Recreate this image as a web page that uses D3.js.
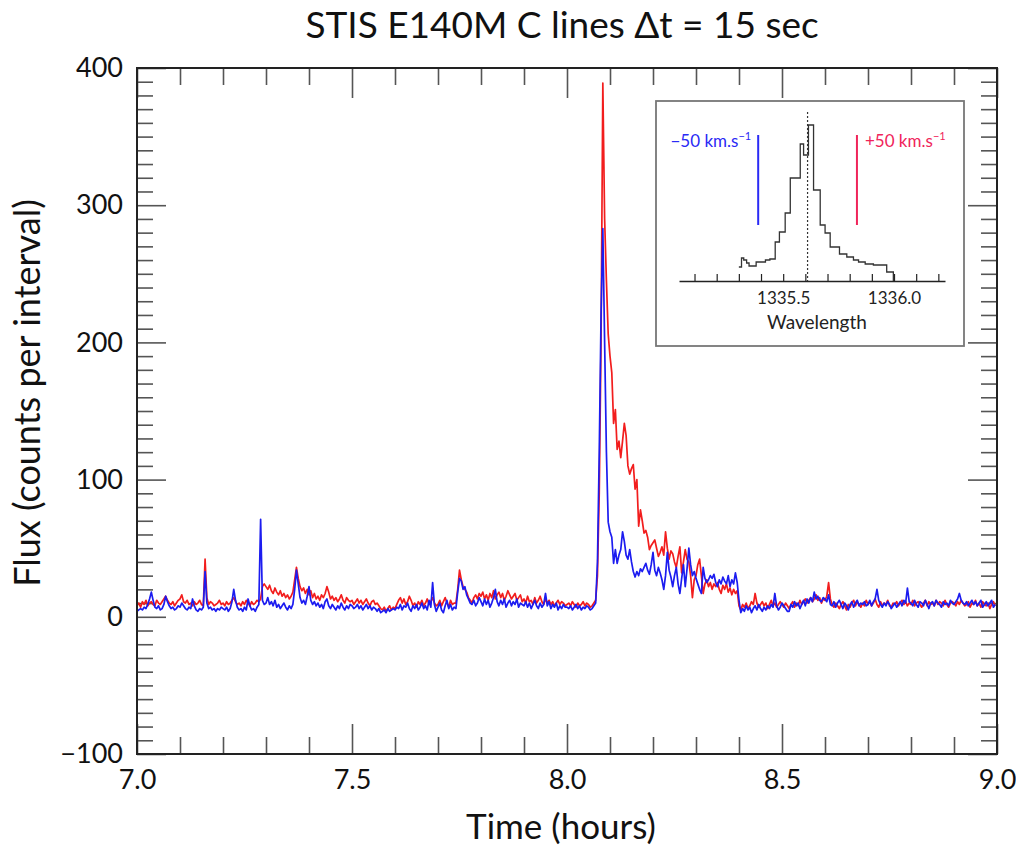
<!DOCTYPE html>
<html><head><meta charset="utf-8">
<script src="https://cdn.jsdelivr.net/npm/d3@7"></script>
<style>body{margin:0;background:#fff} svg{display:block} text{font-family:Lato,"Open Sans",sans-serif}</style>
</head><body><svg id="c" width="1016" height="848"></svg>
<script>
// ---------- DATA ----------
const startHour = 7.0;
const stepSec = 15;
const redFlux = [
8,10,7,11,9,12,8,10,11,9,8,12,10,9,11,13,15,12,10,9,11,8,10,12,
13,16,11,10,12,9,10,8,11,9,10,12,9,8,42,14,9,11,10,8,9,10,12,9,
10,8,11,9,10,12,14,11,9,10,8,11,9,12,10,8,11,9,10,12,11,13,22,24,
22,20,23,19,17,21,18,16,19,15,17,14,16,13,15,18,27,36,28,22,19,21,17,20,
16,19,14,17,13,15,12,16,14,17,22,18,13,15,12,14,11,13,16,12,10,14,12,11,
12,9,11,13,10,12,9,11,13,10,8,11,12,9,10,8,6,5,7,4,6,8,5,7,
6,9,12,14,10,13,9,11,15,12,8,10,7,11,9,12,8,10,13,9,11,14,10,8,
9,12,8,11,14,10,7,12,9,10,10,20,34,27,22,20,18,14,12,10,14,16,13,17,
15,18,13,16,12,17,14,19,13,16,18,14,17,12,15,19,16,13,15,17,12,14,16,11,
13,10,15,11,12,9,14,10,12,15,11,9,13,10,12,9,11,8,10,12,9,11,10,8,
9,10,8,11,9,7,10,8,9,11,8,10,9,7,8,10,12,30,90,200,389,290,245,206,
190,178,141,151,122,128,116,128,141,132,110,104,108,111,93,100,66,78,70,61,63,58,49,52,
54,56,50,44,47,51,45,62,50,42,48,46,40,36,44,51,32,40,49,42,40,30,14,27,
30,38,42,30,17,24,27,22,25,20,24,22,25,20,17,23,20,24,18,21,16,20,17,19,
8,5,9,7,10,6,8,11,9,17,10,7,9,11,8,10,6,9,12,8,10,7,9,11,
9,7,10,8,6,9,11,7,10,8,12,9,11,13,10,12,14,11,13,16,12,14,10,13,
12,15,25,13,9,7,10,8,6,9,11,8,5,9,7,10,12,8,11,9,7,10,8,12,
9,11,8,10,13,9,7,11,8,10,9,12,8,7,10,9,11,8,10,12,9,11,8,10,
9,12,8,10,11,9,7,10,12,8,11,9,10,8,12,9,11,10,8,12,9,7,10,11,
10,8,11,9,12,10,8,9,11,7,10,9,12,8,10,7,11,9,8,10,6,9,11,8
];
const blueFlux = [
4,5,6,5,7,6,9,13,18,12,7,6,8,5,6,9,15,11,8,6,7,5,6,8,
7,10,8,6,5,7,6,13,8,5,4,6,5,7,33,10,6,7,5,6,4,6,5,7,
6,5,7,4,6,11,20,12,7,5,6,4,7,5,13,8,5,6,4,7,9,71,12,9,
10,14,9,11,8,12,7,9,6,8,10,7,5,8,6,9,20,34,24,14,10,12,9,15,
22,12,9,11,8,10,7,9,6,11,13,8,6,9,7,5,8,6,10,7,5,8,6,9,
8,6,7,9,6,8,5,7,9,6,8,5,7,6,4,6,3,4,5,3,6,4,5,6,
5,7,6,9,5,8,7,10,6,4,8,6,9,5,7,10,6,8,5,12,7,25,9,4,
7,10,5,3,8,12,6,9,5,7,6,18,28,26,20,22,16,13,10,9,12,8,10,14,
11,8,13,9,12,7,10,14,20,11,8,12,9,13,7,10,12,8,11,9,13,7,10,9,
8,11,7,10,6,9,12,8,6,10,7,9,17,8,11,6,9,7,10,5,8,6,9,7,
7,6,8,5,7,9,6,8,5,7,6,8,7,5,6,8,10,40,120,220,283,200,120,69,
62,58,39,49,39,45,49,62,55,45,42,49,40,33,29,33,30,35,33,36,39,34,31,38,
47,34,30,36,32,27,20,30,47,34,29,22,30,36,24,17,28,38,22,35,50,38,30,33,
28,24,20,17,36,28,25,27,30,28,31,25,22,27,24,29,26,24,30,22,27,24,32,25,
12,3,6,4,8,5,7,3,6,8,5,9,6,4,7,5,8,6,9,7,17,8,5,7,
10,8,6,4,4,9,7,11,8,10,6,9,12,8,13,10,14,11,18,13,15,12,11,14,
13,11,16,9,8,11,7,10,12,9,6,10,8,5,9,11,7,10,12,8,10,9,11,8,
9,12,8,11,13,20,12,9,7,10,8,11,9,6,8,10,7,9,11,8,12,10,21,11,
10,8,12,9,7,11,10,8,12,9,6,10,11,8,12,10,9,7,11,9,10,8,12,10,
9,11,13,17,12,10,9,11,8,10,12,9,11,8,10,12,7,9,11,8,10,12,7,9
];
const xDomain = [7.0, 9.0];
const yDomain = [-100, 400];
const xMajorTicks = [7.0, 7.5, 8.0, 8.5, 9.0];
const xMinorTicks = [7.1,7.2,7.3,7.4,7.6,7.7,7.8,7.9,8.1,8.2,8.3,8.4,8.6,8.7,8.8,8.9];
const yMajorTicks = [-100, 0, 100, 200, 300, 400];
const yMinorTicks = [-90,-80,-70,-60,-50,-40,-30,-20,-10,10,20,30,40,50,60,70,80,90,110,120,130,140,150,160,170,180,190,210,220,230,240,250,260,270,280,290,310,320,330,340,350,360,370,380,390];
// inset spectrum
const insetEdges = [1335.300,1335.312,1335.322,1335.335,1335.346,1335.378,1335.420,1335.440,1335.464,1335.483,1335.509,1335.532,1335.577,1335.592,1335.614,1335.637,1335.667,1335.689,1335.712,1335.754,1335.787,1335.817,1335.840,1335.870,1335.907,1335.967,1335.997];
const insetFlux = [14,23,21,18,15,19,21,22,39,49,68,103,137,126,156,91,56,48,34,27,24,21,19,17,16,9];
const insetDomain = [1335.03, 1336.23];
const insetTicks = [1335.1,1335.2,1335.3,1335.4,1335.5,1335.6,1335.7,1335.8,1335.9,1336.0,1336.1,1336.2];
const insetLabels = [1335.5, 1336.0];
const lineCenter = 1335.61;
const velocities = [-50, 50];

// ---------- LAYOUT ----------
const svg = d3.select("#c");
const L = 137, R = 997, T = 68, B = 754;
const x = d3.scaleLinear().domain(xDomain).range([L, R]);
const y = d3.scaleLinear().domain(yDomain).range([B, T]);
const tickCol = "#555";

const times = redFlux.map((_, i) => startHour + i * stepSec / 3600);

function styleAxis(g, fs) {
  g.select(".domain").remove();
  g.selectAll(".tick line").attr("stroke", tickCol).attr("stroke-width", 1.6);
  g.selectAll(".tick text").attr("font-size", fs).attr("fill", "#111")
    .attr("font-family", "Lato,'Open Sans',sans-serif");
}
// bottom
svg.append("g").attr("transform", `translate(0,${B})`)
  .call(d3.axisBottom(x).tickValues(xMinorTicks).tickSize(-17).tickFormat("")).call(g => styleAxis(g, 0));
svg.append("g").attr("transform", `translate(0,${B})`)
  .call(d3.axisBottom(x).tickValues(xMajorTicks).tickSize(-30).tickPadding(16).tickFormat(d3.format(".1f")))
  .call(g => styleAxis(g, 27));
// top
svg.append("g").attr("transform", `translate(0,${T})`)
  .call(d3.axisTop(x).tickValues(xMinorTicks).tickSize(-17).tickFormat("")).call(g => styleAxis(g, 0));
svg.append("g").attr("transform", `translate(0,${T})`)
  .call(d3.axisTop(x).tickValues(xMajorTicks).tickSize(-30).tickFormat("")).call(g => styleAxis(g, 0));
// left
svg.append("g").attr("transform", `translate(${L},0)`)
  .call(d3.axisLeft(y).tickValues(yMinorTicks).tickSize(-16).tickFormat("")).call(g => styleAxis(g, 0));
svg.append("g").attr("transform", `translate(${L},0)`)
  .call(d3.axisLeft(y).tickValues(yMajorTicks).tickSize(-29).tickPadding(14).tickFormat(d => d < 0 ? "\u2212" + Math.abs(d) : d))
  .call(g => styleAxis(g, 27));
// right
svg.append("g").attr("transform", `translate(${R},0)`)
  .call(d3.axisRight(y).tickValues(yMinorTicks).tickSize(-16).tickFormat("")).call(g => styleAxis(g, 0));
svg.append("g").attr("transform", `translate(${R},0)`)
  .call(d3.axisRight(y).tickValues(yMajorTicks).tickSize(-29).tickFormat("")).call(g => styleAxis(g, 0));

// data lines
const line = d3.line().x((d, i) => x(times[i])).y(d => y(d));
svg.append("path").datum(redFlux).attr("d", line).attr("fill", "none")
  .attr("stroke", "#f21d1d").attr("stroke-width", 1.7).attr("stroke-linejoin", "round");
svg.append("path").datum(blueFlux).attr("d", line).attr("fill", "none")
  .attr("stroke", "#1c1cf0").attr("stroke-width", 1.7).attr("stroke-linejoin", "round");

// frame
svg.append("rect").attr("x", L).attr("y", T).attr("width", R - L).attr("height", B - T)
  .attr("fill", "none").attr("stroke", "#222").attr("stroke-width", 2);

// titles
svg.append("text").attr("x", 562).attr("y", 38).attr("text-anchor", "middle")
  .attr("font-size", 37).attr("fill", "#111").text("STIS E140M C lines \u0394t = 15 sec");
svg.append("text").attr("x", 561).attr("y", 839).attr("text-anchor", "middle")
  .attr("font-size", 35).attr("fill", "#111").text("Time (hours)");
svg.append("text").attr("transform", "translate(40,393) rotate(-90)").attr("text-anchor", "middle")
  .attr("font-size", 36).attr("fill", "#111").text("Flux (counts per interval)");

// ---------- INSET ----------
const ins = svg.append("g");
ins.append("rect").attr("x", 656).attr("y", 101).attr("width", 308).attr("height", 245)
  .attr("fill", "#fff").attr("stroke", "#777").attr("stroke-width", 1.8);
const ix = d3.scaleLinear().domain(insetDomain).range([679, 945]);
const iy = d3.scaleLinear().domain([0, 156]).range([281, 125]);
const iax = ins.append("g").attr("transform", "translate(0,281)")
  .call(d3.axisBottom(ix).tickValues(insetTicks).tickSize(-7).tickSizeOuter(0).tickPadding(11)
    .tickFormat(d => insetLabels.some(v => Math.abs(v - d) < 1e-6) ? d3.format(".1f")(d) : ""));
iax.select(".domain").attr("stroke", "#222").attr("stroke-width", 1.4);
iax.selectAll(".tick line").attr("stroke", "#222").attr("stroke-width", 1.2);
iax.selectAll(".tick text").attr("font-size", 17).attr("fill", "#222").attr("font-family", "Lato,'Open Sans',sans-serif");
ins.append("text").attr("x", 817).attr("y", 329).attr("text-anchor", "middle")
  .attr("font-size", 19).attr("fill", "#222").text("Wavelength");

const pts = insetFlux.map((f, k) => [insetEdges[k], f]);
pts.push([insetEdges[insetEdges.length - 1], insetFlux[insetFlux.length - 1]]);
pts.push([insetEdges[insetEdges.length - 1], 0]);
ins.append("path").attr("d", d3.line().curve(d3.curveStepAfter).x(d => ix(d[0])).y(d => iy(d[1]))(pts))
  .attr("fill", "none").attr("stroke", "#333").attr("stroke-width", 1.3);
ins.append("line").attr("x1", ix(lineCenter)).attr("x2", ix(lineCenter)).attr("y1", 112).attr("y2", 281)
  .attr("stroke", "#333").attr("stroke-width", 1.2).attr("stroke-dasharray", "2,2");

const cLight = 299792.458;
const vCols = ["#2a2af5", "#f0245a"];
velocities.forEach((v, k) => {
  const xv = ix(lineCenter * (1 + v / cLight));
  ins.append("line").attr("x1", xv).attr("x2", xv).attr("y1", 135).attr("y2", 225)
    .attr("stroke", vCols[k]).attr("stroke-width", 2);
  const t = ins.append("text").attr("y", 147).attr("font-size", 17).attr("fill", vCols[k])
    .attr("x", k === 0 ? xv - 7 : xv + 8).attr("text-anchor", k === 0 ? "end" : "start");
  t.append("tspan").text((v < 0 ? "\u2212" : "+") + Math.abs(v) + " km.s");
  t.append("tspan").attr("font-size", 11).attr("dy", -7).text("\u22121");
});
</script></body></html>
